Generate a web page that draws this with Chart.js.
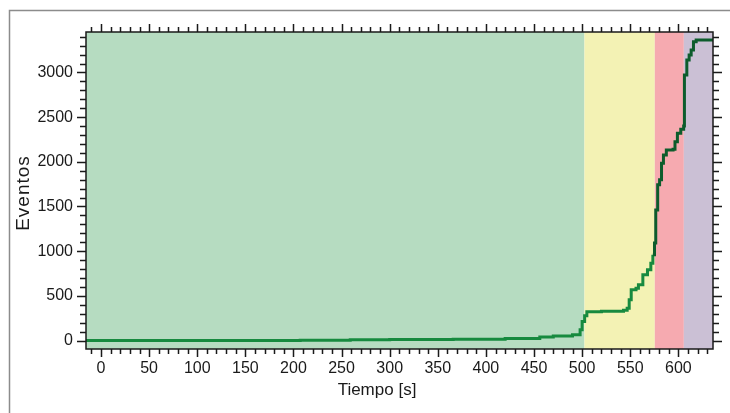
<!DOCTYPE html>
<html>
<head>
<meta charset="utf-8">
<title>Eventos</title>
<script src="https://cdn.jsdelivr.net/npm/chart.js@4/dist/chart.umd.min.js"></script>
<style>
  html, body { margin: 0; padding: 0; background: #ffffff; }
  #wrap { position: relative; width: 730px; height: 413px; }
</style>
</head>
<body>
<div id="wrap"><canvas id="eventChart" width="730" height="413"></canvas></div>
<script>
'use strict';
//data
var timeValues = [-15.6, 207, 259, 300, 366, 420, 456, 470, 490, 497.9, 500, 502.6, 504.9, 520, 543, 546.8, 548.9, 551, 556, 558.5, 563.1, 567.9, 571.4, 573.5, 575.2, 576.5, 578.5, 580.5, 582.5, 584.5, 587.5, 594.5, 596.5, 599, 602.5, 605.5, 606.3, 608.8, 611.2, 613.3, 615.7, 618.5, 636];
var eventValues = [0, 4, 8, 10, 14, 22, 38, 50, 65, 120, 212, 276, 321, 328, 340, 362, 455, 567, 586, 623, 735, 791, 866, 959, 1090, 1462, 1742, 1798, 1984, 2077, 2133, 2141, 2226, 2320, 2365, 2402, 2972, 3140, 3196, 3252, 3345, 3364, 3364];
var xTickValues = [0, 50, 100, 150, 200, 250, 300, 350, 400, 450, 500, 550, 600];
var yTickValues = [0, 500, 1000, 1500, 2000, 2500, 3000];
var phaseEdges = [-15.6, 502.4, 575.5, 605.7, 636];
var phaseColors = ['#b6dcc1', '#f3f2b4', '#f6aab0', '#cbc0d5'];

var points = [];
for (var i = 0; i < timeValues.length; i++) {
  points.push({x: timeValues[i], y: eventValues[i]});
}

var textColor = '#1a1a1a';
var fontName = '"Liberation Sans", Arial, sans-serif';

//shaded phases behind the line
var phasePlugin = {
  id: 'phases',
  beforeDatasetsDraw: function(chart) {
    var ctx = chart.ctx;
    var area = chart.chartArea;
    var xs = chart.scales.x;
    ctx.save();
    for (var i = 0; i < phaseColors.length; i++) {
      var left = Math.max(area.left, xs.getPixelForValue(phaseEdges[i]));
      var right = Math.min(area.right, xs.getPixelForValue(phaseEdges[i + 1]));
      ctx.fillStyle = phaseColors[i];
      ctx.fillRect(left, area.top, right - left, area.bottom - area.top);
    }
    ctx.restore();
  }
};

//frame, tick marks on four sides and axis titles
var framePlugin = {
  id: 'frame',
  afterDraw: function(chart) {
    var ctx = chart.ctx;
    var area = chart.chartArea;
    var xs = chart.scales.x;
    var ys = chart.scales.y;
    ctx.save();
    ctx.strokeStyle = '#8c8c8c';
    ctx.lineWidth = 1.5;
    ctx.strokeRect(9.5, 10.5, 800, 500);

    ctx.strokeStyle = '#1a1a1a';
    ctx.lineWidth = 1.5;
    ctx.strokeRect(area.left, area.top, area.right - area.left, area.bottom - area.top);
    ctx.beginPath();
    var v, p, len;
    for (v = -10; v <= 630; v += 10) {
      p = Math.round(xs.getPixelForValue(v)) + 0.5;
      len = (v % 50 === 0) ? 8 : 5;
      ctx.moveTo(p, area.bottom);
      ctx.lineTo(p, area.bottom + len);
      ctx.moveTo(p, area.top);
      ctx.lineTo(p, area.top - len);
    }
    for (v = 0; v <= 3400; v += 100) {
      p = Math.round(ys.getPixelForValue(v)) + 0.5;
      len = (v % 500 === 0) ? 9 : 6;
      ctx.moveTo(area.left, p);
      ctx.lineTo(area.left - len, p);
      ctx.moveTo(area.right, p);
      ctx.lineTo(area.right + len, p);
    }
    ctx.stroke();

    ctx.fillStyle = textColor;
    ctx.font = '17px ' + fontName;
    ctx.textAlign = 'center';
    ctx.textBaseline = 'alphabetic';
    ctx.fillText('Tiempo [s]', 377, 395);

    ctx.translate(29, 193);
    ctx.rotate(-Math.PI / 2);
    ctx.font = '19px ' + fontName;
    if ('letterSpacing' in ctx) {
      ctx.letterSpacing = '1px';
    }
    ctx.fillText('Eventos', 0, 0);
    ctx.restore();
  }
};

var ctx = document.getElementById('eventChart');
var eventChart = new Chart(ctx, {
  type: 'line',
  data: {
    datasets: [{
      label: 'Eventos',
      data: points,
      stepped: 'before',
      borderColor: '#178a3f',
      borderWidth: 3,
      pointRadius: 0,
      fill: false,
      segment: {
        borderColor: function(c) {
          return c.p1.parsed.x > 575 ? '#0d5c2c' : '#178a3f';
        }
      }
    }]
  },
  options: {
    responsive: false,
    animation: false,
    layout: {padding: {top: 32, right: 17, left: 0, bottom: 0}},
    plugins: {
      legend: {display: false},
      tooltip: {enabled: false}
    },
    scales: {
      x: {
        type: 'linear',
        min: -15.6,
        max: 636,
        grid: {display: false, drawTicks: false},
        border: {display: false},
        afterBuildTicks: function(scale) {
          scale.ticks = xTickValues.map(function(v) { return {value: v}; });
        },
        afterFit: function(scale) {
          scale.height = 64;
        },
        ticks: {
          padding: 10,
          color: textColor,
          autoSkip: false,
          maxRotation: 0,
          font: {family: fontName, size: 16},
          callback: function(value) { return String(value); }
        }
      },
      y: {
        type: 'linear',
        min: -95,
        max: 3453,
        grid: {display: false, drawTicks: false},
        border: {display: false},
        afterBuildTicks: function(scale) {
          scale.ticks = yTickValues.map(function(v) { return {value: v}; });
        },
        afterFit: function(scale) {
          scale.width = 86;
        },
        ticks: {
          padding: 13,
          color: textColor,
          font: {family: fontName, size: 16},
          callback: function(value) { return String(value); }
        }
      }
    }
  },
  plugins: [phasePlugin, framePlugin]
});
</script>
</body>
</html>
